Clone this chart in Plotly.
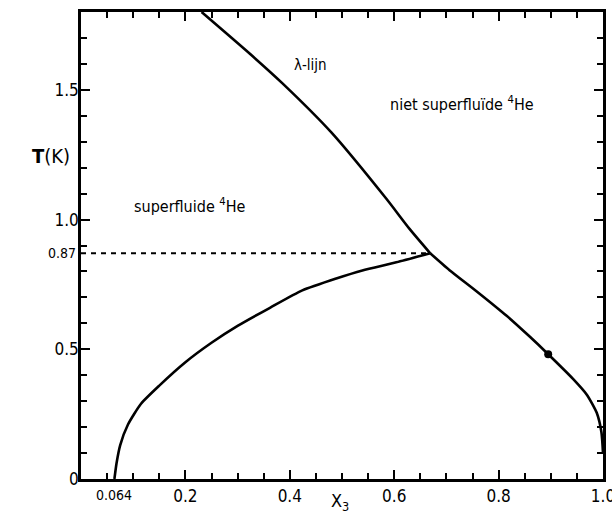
import plotly.graph_objects as go

# --- data ---
lambda_x = [0.231, 0.323, 0.386, 0.480, 0.585, 0.629, 0.669]
lambda_T = [1.800, 1.640, 1.525, 1.335, 1.080, 0.965, 0.870]

right_x = [0.669, 0.706, 0.757, 0.816, 0.860, 0.895, 0.943, 0.969, 0.988, 0.997, 1.000]
right_T = [0.870, 0.805, 0.725, 0.628, 0.548, 0.481, 0.385, 0.325, 0.255, 0.180, 0.100]

left_x = [0.064, 0.068, 0.075, 0.090, 0.115, 0.150, 0.200, 0.250, 0.300, 0.362, 0.424, 0.489, 0.539, 0.604, 0.669]
left_T = [0.000, 0.060, 0.130, 0.210, 0.290, 0.360, 0.450, 0.525, 0.590, 0.660, 0.727, 0.773, 0.804, 0.835, 0.870]

tricritical_T = 0.87
tricritical_x = 0.669
dot_x = [0.895]
dot_T = [0.481]

x_tickvals = [0.2, 0.4, 0.6, 0.8, 1.0]
x_ticktext = ["0.2", "0.4", "0.6", "0.8", "1.0"]
y_tickvals = [0, 0.5, 1.0, 1.5]
y_ticktext = ["0", "0.5", "1.0", "1.5"]

FONT = "DejaVu Sans Condensed, DejaVu Sans, sans-serif"

fig = go.Figure()
line = dict(color="black", width=2.6, shape="spline", smoothing=0.6)
fig.add_trace(go.Scatter(x=lambda_x, y=lambda_T, mode="lines", line=line, showlegend=False))
fig.add_trace(go.Scatter(x=right_x, y=right_T, mode="lines", line=line, showlegend=False))
fig.add_trace(go.Scatter(x=left_x, y=left_T, mode="lines", line=line, showlegend=False))
fig.add_trace(go.Scatter(x=[0, tricritical_x], y=[tricritical_T, tricritical_T], mode="lines",
                         line=dict(color="black", width=2, dash="5px,5px"), showlegend=False))
fig.add_trace(go.Scatter(x=dot_x, y=dot_T, mode="markers",
                         marker=dict(color="black", size=8), showlegend=False))

axis_common = dict(showline=True, linecolor="black", linewidth=2.5, mirror="ticks",
                   ticks="inside", tickcolor="black", tickwidth=2, ticklen=9,
                   showgrid=False, zeroline=False, ticklabeloverflow="allow", automargin=False,
                   tickfont=dict(family=FONT, size=17, color="black"))

fig.update_xaxes(range=[0, 1], tickmode="array", tickvals=x_tickvals, ticktext=x_ticktext,
                 minor=dict(tickmode="linear", tick0=0, dtick=0.05, ticks="inside", ticklen=6,
                            tickwidth=2, tickcolor="black"),
                 **axis_common)
fig.update_yaxes(range=[0, 1.8], tickmode="array", tickvals=y_tickvals, ticktext=y_ticktext,
                 ticklabelstandoff=-4,
                 minor=dict(tickmode="linear", tick0=0, dtick=0.1, ticks="inside", ticklen=6,
                            tickwidth=2, tickcolor="black"),
                 **axis_common)

annos = [
    dict(x=0.064, y=0, xref="x", yref="paper", yanchor="top", yshift=-6, text="0.064",
         font=dict(family=FONT, size=14)),
    dict(x=0, y=0.87, xref="paper", yref="y", xanchor="right", xshift=-3, text="0.87",
         font=dict(family=FONT, size=14)),
    dict(x=0.439, y=1.596, xref="x", yref="y", text="λ-lijn", font=dict(family=FONT, size=15)),
    dict(x=0.729, y=1.446, xref="x", yref="y", text="niet superfluïde <sup>4</sup>He",
         font=dict(family=FONT, size=16)),
    dict(x=0.209, y=1.054, xref="x", yref="y", text="superfluide <sup>4</sup>He",
         font=dict(family=FONT, size=16)),
    dict(x=-0.0975, y=1.246, xref="paper", yref="y", text="<b>T</b>(K)",
         font=dict(family=FONT, size=20)),
    dict(x=0.496, y=0, xref="x", yref="paper", yanchor="top", yshift=-9, text="X<sub>3</sub>",
         font=dict(family=FONT, size=18)),
]
for a in annos:
    a.setdefault("showarrow", False)
    a["font"]["color"] = "black"
    fig.add_annotation(**a)

fig.update_layout(width=612, height=515, margin=dict(l=81, r=9, t=12, b=36, autoexpand=False),
                  plot_bgcolor="white", paper_bgcolor="white",
                  font=dict(family=FONT, color="black"))

fig.write_html("out.html", config={"displayModeBar": False},
               post_script="document.body.style.margin='0';")
